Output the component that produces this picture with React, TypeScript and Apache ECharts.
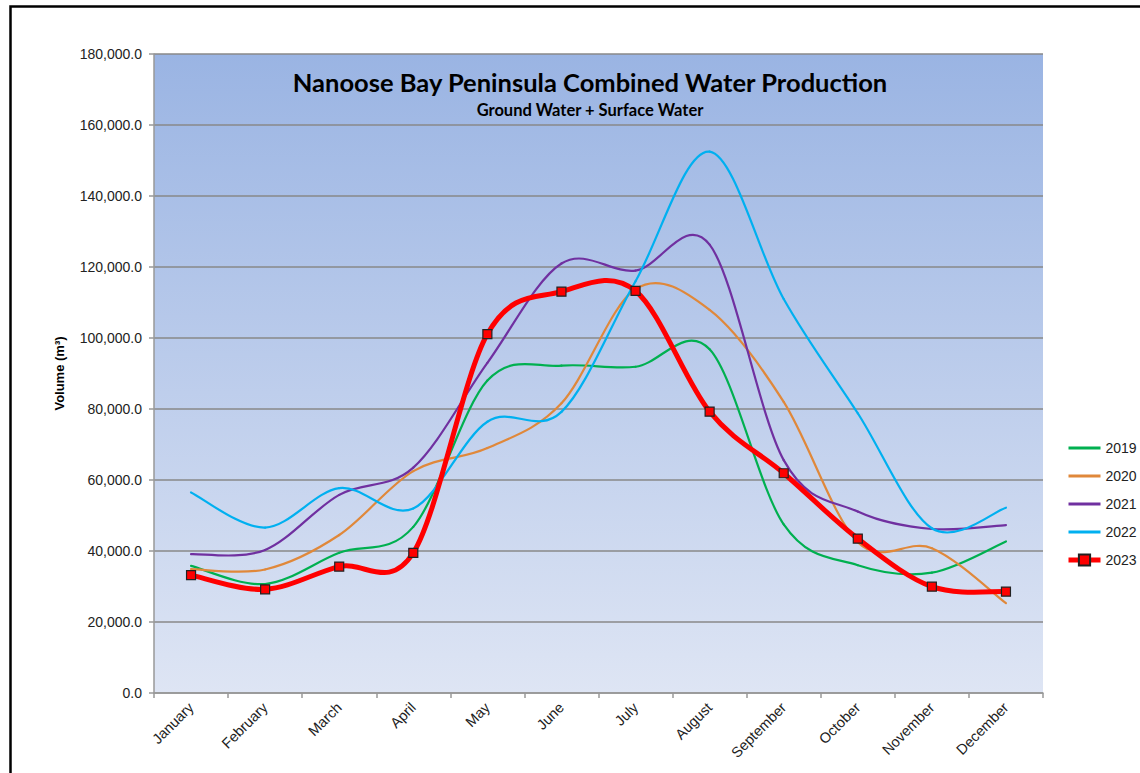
import React, { useEffect, useRef } from "react";
import * as echarts from "echarts";

const months = ["January","February","March","April","May","June","July","August","September","October","November","December"];
const yTicks = [0, 20000, 40000, 60000, 80000, 100000, 120000, 140000, 160000, 180000];

const s2019 = [35800, 30700, 39500, 46800, 88000, 92200, 91900, 96800, 47500, 36000, 33900, 42700];
const s2020 = [34900, 34800, 44500, 62500, 69000, 81600, 113800, 107900, 82000, 42500, 40800, 25300];
const s2021 = [39100, 40300, 55800, 63500, 93000, 121000, 119000, 126300, 65600, 51100, 46200, 47300];
const s2022 = [56500, 46600, 57700, 52000, 76400, 79200, 116000, 152500, 111000, 78800, 46400, 52200];
const s2023 = [33200, 29200, 35600, 39500, 101100, 113050, 113250, 79250, 61900, 43500, 29950, 28550];

const seriesNames = ["2019", "2020", "2021", "2022", "2023"];
const seriesColors = ["#00B050", "#E0883A", "#7030A0", "#00B0F0", "#FF0000"];

const FONT = "Liberation Sans, Arial, sans-serif";
const TITLE_FONT = "Lato, Open Sans, sans-serif";

function curveSeries(name: string, values: number[], color: string, width: number, z: number) {
  return {
    type: "custom",
    name,
    z,
    data: values.map((v, i) => [i, v]),
    itemStyle: { color },
    encode: { x: 0, y: 1 },
    renderItem: (params: any, api: any) => {
      const i = params.dataIndexInside;
      const n = params.dataInsideLength;
      if (i >= n - 1) return null;
      const pt = (k: number) => {
        const kk = Math.max(0, Math.min(n - 1, k));
        return api.coord([api.value(0, kk), api.value(1, kk)]);
      };
      const p0 = pt(i - 1), p1 = pt(i), p2 = pt(i + 1), p3 = pt(i + 2);
      const t = 1 / 6;
      return {
        type: "bezierCurve",
        shape: {
          x1: p1[0], y1: p1[1],
          x2: p2[0], y2: p2[1],
          cpx1: p1[0] + (p2[0] - p0[0]) * t,
          cpy1: p1[1] + (p2[1] - p0[1]) * t,
          cpx2: p2[0] - (p3[0] - p1[0]) * t,
          cpy2: p2[1] - (p3[1] - p1[1]) * t,
        },
        style: { stroke: color, lineWidth: width, fill: null, lineCap: "round" },
      };
    },
  };
}

export default function App() {
  const ref = useRef<HTMLDivElement>(null);
  useEffect(() => {
    document.body.style.margin = "0";
    const chart = echarts.init(ref.current!, null, { renderer: "svg" });
    const data = [s2019, s2020, s2021, s2022, s2023];
    const series: any[] = [
      {
        name: "2023",
        type: "line",
        data: s2023,
        symbol: "rect",
        symbolSize: 9,
        z: 10,
        lineStyle: { width: 0, opacity: 0, color: "#FF0000" },
        itemStyle: { color: "#FF0000", borderColor: "#222", borderWidth: 1.2 },
      },
      ...data.map((d, i) =>
        curveSeries(seriesNames[i], d, seriesColors[i], i === 4 ? 5 : 2.2, i === 4 ? 5 : 3)
      ),
    ];
    const lineIcon = "path://M0,0H30V2.6H0Z";
    chart.setOption({
      animation: false,
      backgroundColor: "#ffffff",
      textStyle: { fontFamily: FONT },
      grid: {
        left: 154,
        top: 54,
        right: 97,
        bottom: 80,
        show: true,
        borderWidth: 0,
        backgroundColor: new echarts.graphic.LinearGradient(0, 0, 0, 1, [
          { offset: 0, color: "#9AB4E3" },
          { offset: 1, color: "#DEE5F4" },
        ]),
      },
      legend: {
        orient: "vertical",
        left: 1061,
        top: 436,
        itemWidth: 32,
        itemHeight: 14,
        itemGap: 14,
        textStyle: { fontSize: 14, color: "#222", fontFamily: FONT },
        data: seriesNames.map((nm, i) =>
          i === 4
            ? { name: nm, lineStyle: { color: "#FF0000", width: 5, opacity: 1 } }
            : { name: nm, icon: lineIcon, itemStyle: { color: seriesColors[i] } }
        ),
      },
      xAxis: {
        type: "category",
        data: months,
        boundaryGap: true,
        axisLine: { lineStyle: { color: "#999", width: 1.5 } },
        axisTick: { show: true, length: 5, lineStyle: { color: "#999", width: 1.5 } },
        axisLabel: { rotate: 45, fontSize: 14.5, color: "#222", margin: 12, interval: 0 },
      },
      yAxis: {
        type: "value",
        min: yTicks[0],
        max: yTicks[yTicks.length - 1],
        interval: yTicks[1] - yTicks[0],
        name: "Volume (m³)",
        nameLocation: "middle",
        nameGap: 88,
        nameRotate: 90,
        nameTextStyle: { fontWeight: "bold", fontSize: 13, color: "#000" },
        axisLine: { show: true, lineStyle: { color: "#999", width: 1.5 } },
        axisTick: { show: true, length: 5, lineStyle: { color: "#999", width: 1.5 } },
        axisLabel: {
          fontSize: 14,
          color: "#222",
          margin: 12,
          formatter: (v: number) => v.toLocaleString("en-US", { minimumFractionDigits: 1, maximumFractionDigits: 1 }),
        },
        splitLine: { show: true, lineStyle: { color: "#888", width: 1.5 } },
      },
      graphic: [
        {
          type: "rect",
          left: 8,
          top: 4,
          shape: { width: 1300, height: 1000 },
          style: { fill: "none", stroke: "#000", lineWidth: 2.5 },
          silent: true,
          z: 100,
        },
        {
          type: "text",
          x: 590,
          y: 82,
          style: {
            text: "Nanoose Bay Peninsula Combined Water Production",
            fontFamily: TITLE_FONT,
            fontWeight: "bold",
            fontSize: 25.5,
            fill: "#000",
            align: "center",
            verticalAlign: "middle",
          },
          z: 50,
        },
        {
          type: "text",
          x: 590,
          y: 110,
          style: {
            text: "Ground Water + Surface Water",
            fontFamily: TITLE_FONT,
            fontWeight: "bold",
            fontSize: 16.5,
            fill: "#000",
            align: "center",
            verticalAlign: "middle",
          },
          z: 50,
        },
      ],
      series,
    });
    return () => chart.dispose();
  }, []);
  return <div ref={ref} style={{ width: 1140, height: 773 }} />;
}
